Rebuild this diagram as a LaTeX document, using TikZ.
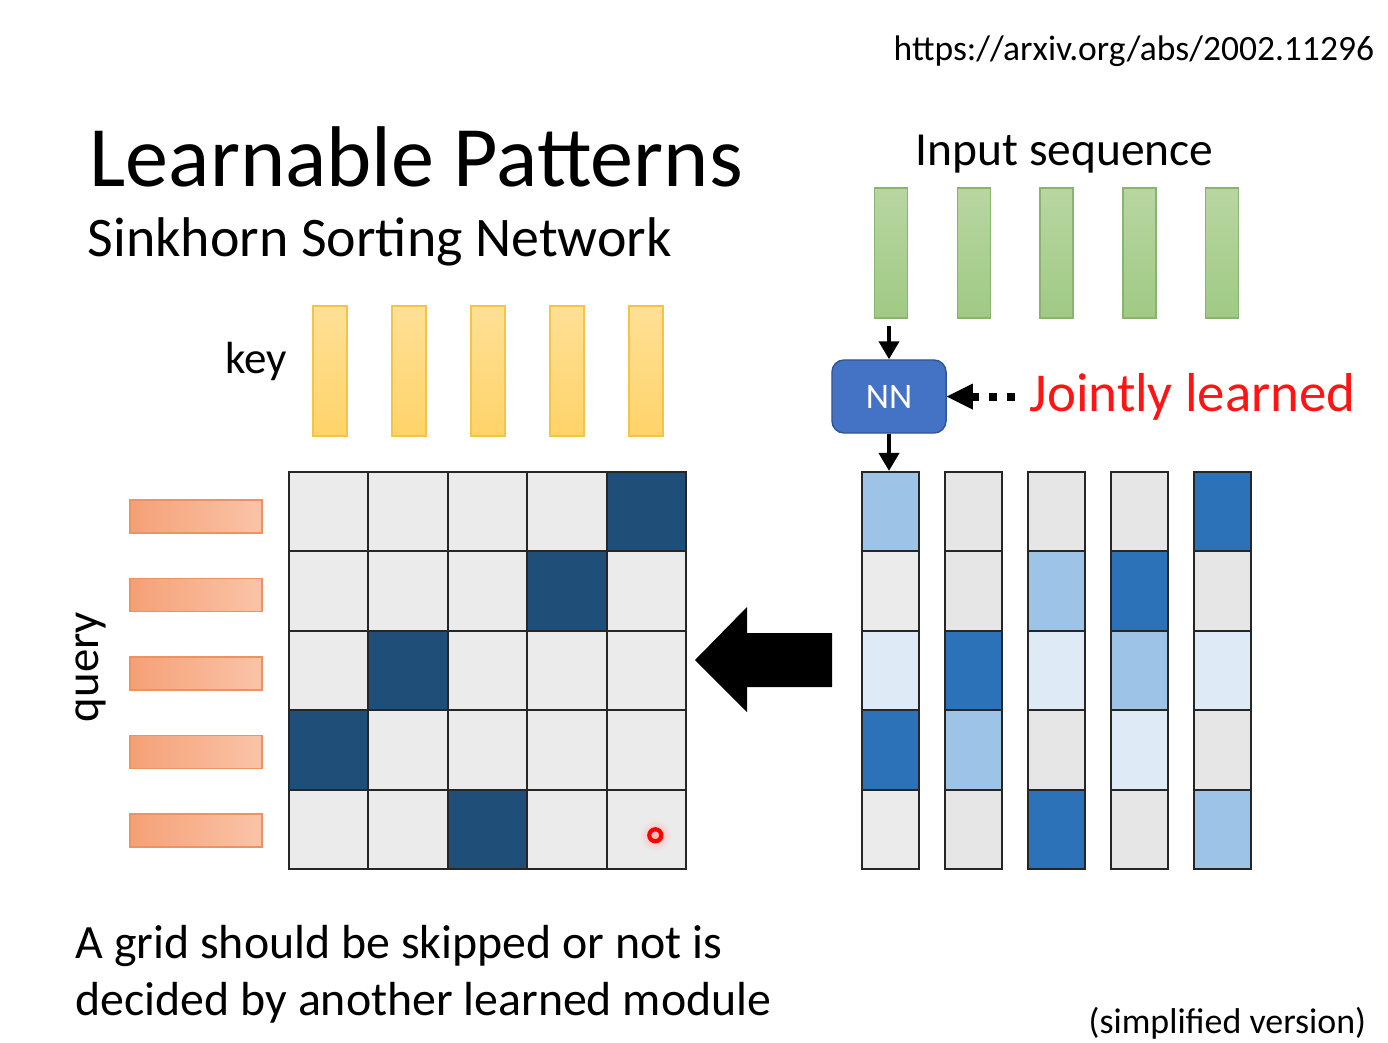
\documentclass[tikz,border=0pt]{standalone}
\usepackage{fontspec}
\setmainfont{Carlito}
\usepackage{xcolor}
\usepackage{tikz}
\usetikzlibrary{
  arrows.meta,
  positioning,
  shapes.geometric
}
\definecolor{KeyTop}{RGB}{255,224,150}
\definecolor{KeyBottom}{RGB}{255,211,105}
\definecolor{KeyEdge}{RGB}{244,196,70}
\definecolor{QueryLeft}{RGB}{245,160,118}
\definecolor{QueryRight}{RGB}{250,196,168}
\definecolor{QueryEdge}{RGB}{238,146,98}
\definecolor{SeqTop}{RGB}{184,214,162}
\definecolor{SeqBottom}{RGB}{160,202,132}
\definecolor{SeqEdge}{RGB}{138,178,112}
\definecolor{CellGray}{RGB}{235,235,235}
\definecolor{SlotGray}{RGB}{231,230,230}
\definecolor{NavyBlue}{RGB}{31,78,121}
\definecolor{DeepBlue}{RGB}{44,114,184}
\definecolor{SoftBlue}{RGB}{157,195,230}
\definecolor{PaleBlue}{RGB}{222,235,247}
\definecolor{NNBlue}{RGB}{68,114,196}
\definecolor{NNEdge}{RGB}{47,85,151}
\definecolor{JointRed}{RGB}{255,20,20}
\tikzset{
  keybar/.style={rectangle, draw=KeyEdge, top color=KeyTop, bottom color=KeyBottom,
    minimum width=0.34cm, minimum height=1.3cm, inner sep=0pt},
  querybar/.style={rectangle, draw=QueryEdge, left color=QueryLeft, right color=QueryRight,
    minimum width=1.32cm, minimum height=0.33cm, inner sep=0pt},
  seqbar/.style={rectangle, draw=SeqEdge, top color=SeqTop, bottom color=SeqBottom,
    minimum width=0.33cm, minimum height=1.3cm, inner sep=0pt},
  cell/.style={rectangle, draw=black!85, line width=0.6pt, fill=CellGray,
    minimum width=0.794cm, minimum height=0.794cm, inner sep=0pt},
  slot/.style={rectangle, draw=black!85, line width=0.6pt,
    minimum width=0.57cm, minimum height=0.794cm, inner sep=0pt},
  flow/.style={-{Triangle[length=0.18cm,width=0.2cm]}, line width=1.1pt},
  plain/.style={inner sep=0pt, anchor=base west}
}

\begin{document}
\begin{tikzpicture}[x=0.01cm, y=-0.01cm]
\useasboundingbox (0,0) rectangle (1388,1042);

% texts
\node[plain, font=\fontsize{10.1}{12}\selectfont] (url) at (893,60) {https://arxiv.org/abs/2002.11296};
\node[plain, font=\fontsize{24.5}{29}\selectfont] (title) at (89,186) {Learnable Patterns};
\node[plain, font=\fontsize{15.9}{19}\selectfont] (subtitle) at (87,256) {Sinkhorn Sorting Network};
\node[plain, font=\fontsize{13.5}{16}\selectfont] (inseq) at (915,165) {Input sequence};
\node[plain, font=\fontsize{12.8}{15}\selectfont] (keylabel) at (225,373) {key};
\node[inner sep=0pt, anchor=base, rotate=90, font=\fontsize{13.3}{16}\selectfont] (querylabel) at (98,667) {query};
\node[plain, align=left, font=\fontsize{13.6}{16.2}\selectfont] (note) at (75,1015)
  {A grid should be skipped or not is\\decided by another learned module};
\node[plain, font=\fontsize{10.2}{12}\selectfont] (simple) at (1088,1033) {(simplified version)};

% keys and queries
\foreach \c in {1,...,5}
  \node[keybar] (key-\c) at ({330+79*(\c-1)},371) {};
\foreach \r in {1,...,5}
  \node[querybar] (query-\r) at (196,{516.5+78.5*(\r-1)}) {};

% attention grid
\foreach \r in {1,...,5}
  \foreach \c in {1,...,5}
    \node[cell] (grid-\r-\c) at ({289+79.4*(\c-0.5)},{472+79.4*(\r-0.5)}) {};
\foreach \r/\c in {1/5,2/4,3/2,4/1,5/3}
  \node[cell, fill=NavyBlue] (pick-\r) at (grid-\r-\c) {};

% red marker
\shade[inner color=red!30, outer color=CellGray] (grid-5-5.center) ++(9,6) circle (0.16cm);
\draw[red, line width=1.2pt] (grid-5-5.center) ++(9,6) circle (0.06cm);

% input sequence and NN
\foreach \c in {1,...,5}
  \node[seqbar] (seq-\c) at ({891+82.8*(\c-1)},253) {};
\node[rectangle, rounded corners=0.12cm, fill=NNBlue, draw=NNEdge, text=white,
  minimum width=1.14cm, minimum height=0.73cm, font=\fontsize{10.2}{12}\selectfont] (nn) at (889,396.5) {NN};
\node[plain, text=JointRed, font=\fontsize{15.6}{19}\selectfont] (joint) at (1029,411) {Jointly learned};

% sorted columns
\foreach \c/\tones in {1/{SoftBlue,CellGray,PaleBlue,DeepBlue,CellGray},
                       2/{SlotGray,SlotGray,DeepBlue,SoftBlue,SlotGray},
                       3/{SlotGray,SoftBlue,PaleBlue,SlotGray,DeepBlue},
                       4/{SlotGray,DeepBlue,SoftBlue,PaleBlue,SlotGray},
                       5/{DeepBlue,SlotGray,PaleBlue,SlotGray,SoftBlue}}
  \foreach \tone [count=\r] in \tones
    \node[slot, fill=\tone] (col-\c-\r) at ({890.5+83*(\c-1)},{472+79.4*(\r-0.5)}) {};

% connectors
\draw[flow, shorten <=0.07cm] (nn.north |- seq-1.south) -- (nn.north);
\draw[flow] (nn.south) -- (nn.south |- col-1-1.north);
\draw[-{Triangle[length=0.26cm,width=0.26cm,line width=0pt]}, line width=0.08cm,
  dash pattern=on 0.08cm off 0.1cm, shorten <=0.14cm] (joint.west |- nn.east) -- (nn.east);

% big arrow
\fill (695,660) -- (747,607) -- (747,633) -- (832,633) -- (832,687) -- (747,687) -- (747,712) -- cycle;
\end{tikzpicture}
\end{document}
